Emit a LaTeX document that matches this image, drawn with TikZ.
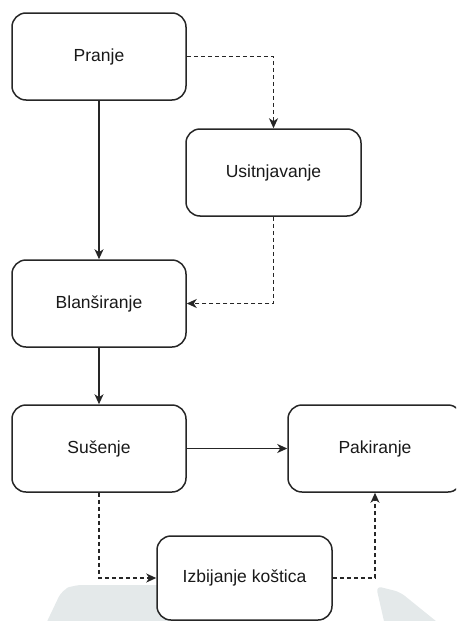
\documentclass[tikz,border=0pt]{standalone}
\usepackage{fontspec}
\setmainfont{Liberation Sans}
\usetikzlibrary{arrows.meta}
\definecolor{boxline}{HTML}{262626}
\definecolor{wm}{HTML}{E4E9EA}
\tikzset{
  procbox/.style={draw=boxline, line width=1.5pt, rounded corners=14pt, fill=white,
    minimum width=174pt, minimum height=87pt, inner sep=0pt,
    font=\fontsize{17.5pt}{20pt}\selectfont, text=black!90},
  solidarrow/.style={draw=boxline, line width=1.5pt, -{Stealth[length=10pt,width=9pt,inset=3pt]}},
  dasharrow/.style={draw=boxline, line width=1.5pt, dash pattern=on 4pt off 3pt, -{Stealth[length=10pt,width=9pt,inset=3pt]}}
}
\begin{document}
\begin{tikzpicture}[x=1pt,y=-1pt]
\useasboundingbox (0,0) rectangle (456,621);
\clip (0,0) rectangle (456,621);
% watermark shapes
\fill[wm, rounded corners=8pt] (43,630) -- (62,590) -- (74,585) -- (200,585) -- (200,630) -- cycle;
\fill[wm, rounded corners=6pt] (376,586) -- (400,592) -- (447,630) -- (386,630) -- cycle;
% boxes
\node[procbox] (pranje) at (99,56.5) {Pranje};
\node[procbox, minimum width=175pt] (usit) at (273.5,172.5) {Usitnjavanje};
\node[procbox] (blan) at (99,303.5) {Blanširanje};
\node[procbox] (sus) at (99,448.5) {Sušenje};
\node[procbox] (pak) at (375,448.5) {Pakiranje};
\node[procbox, minimum width=175pt, minimum height=84pt] (izb) at (244.5,578) {Izbijanje koštica};
% connectors
\draw[solidarrow] (pranje.south) -- (blan.north);
\draw[solidarrow] (blan.south) -- (sus.north);
\draw[solidarrow] (sus.east) -- (pak.west);
\draw[dasharrow] (pranje.east) -| (usit.north);
\draw[dasharrow] (usit.south) |- (blan.east);
\draw[dasharrow] (sus.south) |- (izb.west);
\draw[dasharrow] (izb.east) -| (pak.south);
\end{tikzpicture}
\end{document}
